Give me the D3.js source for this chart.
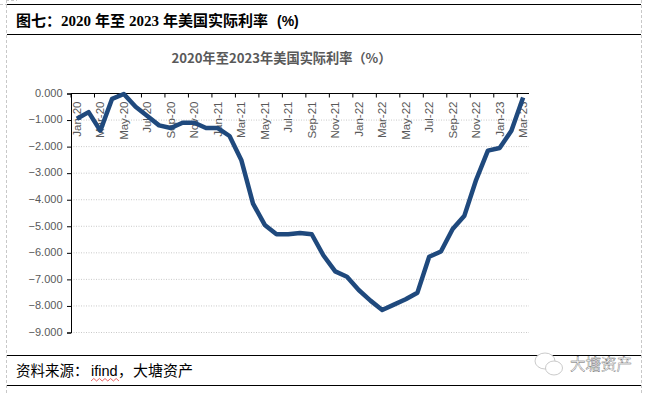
<!DOCTYPE html>
<html>
<head>
<meta charset="utf-8">
<script src="https://cdn.jsdelivr.net/npm/d3@7"></script>
<style>
html, body { margin: 0; padding: 0; background: #fff; }
svg { display: block; }
</style>
</head>
<body>
<div id="chart"></div>
<script>
const months = [
  "Jan-20","Feb-20","Mar-20","Apr-20","May-20","Jun-20","Jul-20","Aug-20","Sep-20","Oct-20","Nov-20","Dec-20",
  "Jan-21","Feb-21","Mar-21","Apr-21","May-21","Jun-21","Jul-21","Aug-21","Sep-21","Oct-21","Nov-21","Dec-21",
  "Jan-22","Feb-22","Mar-22","Apr-22","May-22","Jun-22","Jul-22","Aug-22","Sep-22","Oct-22","Nov-22","Dec-22",
  "Jan-23","Feb-23","Mar-23"
];
const realRate = [
  -0.95,-0.7,-1.4,-0.2,-0.02,-0.5,-0.85,-1.2,-1.3,-1.1,-1.1,-1.3,
  -1.3,-1.6,-2.5,-4.15,-4.95,-5.3,-5.3,-5.25,-5.3,-6.1,-6.7,-6.9,
  -7.4,-7.8,-8.15,-7.95,-7.75,-7.5,-6.15,-5.95,-5.1,-4.6,-3.25,-2.15,
  -2.05,-1.4,-0.15
];
const yTicks = [0,-1,-2,-3,-4,-5,-6,-7,-8,-9];

const width = 652, height = 393;
const margin = { top: 93.5, right: 123, bottom: 61, left: 71 };
const cjk = '"Noto Sans CJK SC", sans-serif';
const latin = '"Liberation Sans", sans-serif';

const svg = d3.select("#chart").append("svg")
  .attr("width", width)
  .attr("height", height);

// dashed page edges behind the table
svg.append("path")
  .attr("d", "M6.5,0V393M641.5,0V393M0,4.5H7M6,0.5H17")
  .attr("fill", "none")
  .attr("stroke", "#c8c8c8")
  .attr("stroke-dasharray", "3,2");

// table rules
[4.5, 34.5, 355.5, 385.5].forEach(ruleY => {
  svg.append("line")
    .attr("x1", 7).attr("x2", 641)
    .attr("y1", ruleY).attr("y2", ruleY)
    .attr("stroke", "#000")
    .attr("stroke-width", 1);
});

// heading runs sit at their own x, the document mixes fonts and spacing
const heading = svg.append("text")
  .attr("y", 25.5)
  .attr("font-family", `"Liberation Serif", ${cjk}`)
  .attr("font-size", 15)
  .attr("font-weight", 700)
  .attr("fill", "#000");
[[16, "图七："], [61, "2020"], [95, "年至"], [129, "2023"], [163, "年美国实际利率"]].forEach(([runX, run]) => {
  heading.append("tspan").attr("x", runX).text(run);
});
heading.append("tspan")
  .attr("x", 277)
  .attr("font-family", latin)
  .attr("font-size", 14)
  .text("(%)");

svg.append("text")
  .attr("x", 281.5).attr("y", 63)
  .attr("text-anchor", "middle")
  .attr("font-family", cjk)
  .attr("font-size", 13.2)
  .attr("font-weight", 700)
  .attr("fill", "#595959")
  .text("2020年至2023年美国实际利率（%）");

const source = svg.append("text")
  .attr("y", 376)
  .attr("font-family", cjk)
  .attr("font-size", 14.5)
  .attr("fill", "#000");
source.append("tspan").attr("x", 16).text("资料来源：");
source.append("tspan").attr("x", 91).attr("font-family", latin).text("ifind");
source.append("tspan").attr("x", 118).text("，");
source.append("tspan").attr("x", 133).attr("font-size", 15).text("大塘资产");

// squiggle under ifind, as the spell checker drew it
const squiggle = d3.range(0, 11).map(i => [91 + i * 2.8, i % 2 ? 378.5 : 381]);
svg.append("path")
  .attr("d", d3.line()(squiggle))
  .attr("fill", "none")
  .attr("stroke", "#e02020")
  .attr("stroke-width", 0.7);

// watermark
const mark = svg.append("g").attr("fill", "#fff").attr("stroke", "#bdbdbd").attr("stroke-width", 0.8);
mark.append("ellipse").attr("cx", 545).attr("cy", 361).attr("rx", 10).attr("ry", 8);
mark.append("ellipse").attr("cx", 554).attr("cy", 368).attr("rx", 8.5).attr("ry", 7);
svg.append("text")
  .attr("x", 570).attr("y", 370)
  .attr("font-family", cjk)
  .attr("font-size", 15.5)
  .attr("fill", "#fff")
  .attr("stroke", "#666")
  .attr("stroke-width", 0.4)
  .text("大塘资产");

const x = d3.scaleBand()
  .domain(months)
  .range([margin.left, width - margin.right]);

const y = d3.scaleLinear()
  .domain([-9, 0])
  .range([height - margin.bottom + 0.5, margin.top]);

// grid
svg.append("g")
  .selectAll("line")
  .data(yTicks.filter(d => d !== 0))
  .join("line")
  .attr("x1", margin.left).attr("x2", width - margin.right)
  .attr("y1", d => y(d)).attr("y2", d => y(d))
  .attr("stroke", "#c9c9c9")
  .attr("stroke-dasharray", "1,1.5");

// y axis
const yAxis = svg.append("g")
  .attr("transform", `translate(${margin.left},0)`)
  .call(d3.axisLeft(y).tickValues(yTicks).tickSize(4).tickPadding(4.5).tickFormat(d3.format(".3f")));
yAxis.selectAll("path, line").attr("stroke", "#000").attr("stroke-width", 1);
yAxis.selectAll("text")
  .attr("font-family", latin)
  .attr("font-size", 11)
  .attr("fill", "#595959")
  .attr("dy", "0.25em");

// top axis: ticks every second month, labels turned inside the plot
const everyOther = months.filter((d, i) => i % 2 === 0);
const xAxis = svg.append("g")
  .attr("transform", `translate(0,${margin.top})`);
xAxis.append("line")
  .attr("x1", margin.left).attr("x2", width - margin.right)
  .attr("stroke", "#000");
xAxis.selectAll("line.tick")
  .data(everyOther)
  .join("line")
  .attr("class", "tick")
  .attr("x1", d => x(d)).attr("x2", d => x(d))
  .attr("y1", 0).attr("y2", 4)
  .attr("stroke", "#000");
xAxis.selectAll("text")
  .data(everyOther)
  .join("text")
  .attr("transform", d => `translate(${x(d) + x.bandwidth() / 2},8) rotate(-90)`)
  .attr("text-anchor", "end")
  .attr("dy", "0.35em")
  .attr("font-family", latin)
  .attr("font-size", 11.5)
  .attr("fill", "#595959")
  .text(d => d);

const line = d3.line()
  .x((d, i) => x(months[i]) + x.bandwidth() / 2)
  .y(d => y(d));

svg.append("path")
  .datum(realRate)
  .attr("d", line)
  .attr("fill", "none")
  .attr("stroke", "#1f497d")
  .attr("stroke-width", 4.5)
  .attr("stroke-linejoin", "round");
</script>
</body>
</html>
